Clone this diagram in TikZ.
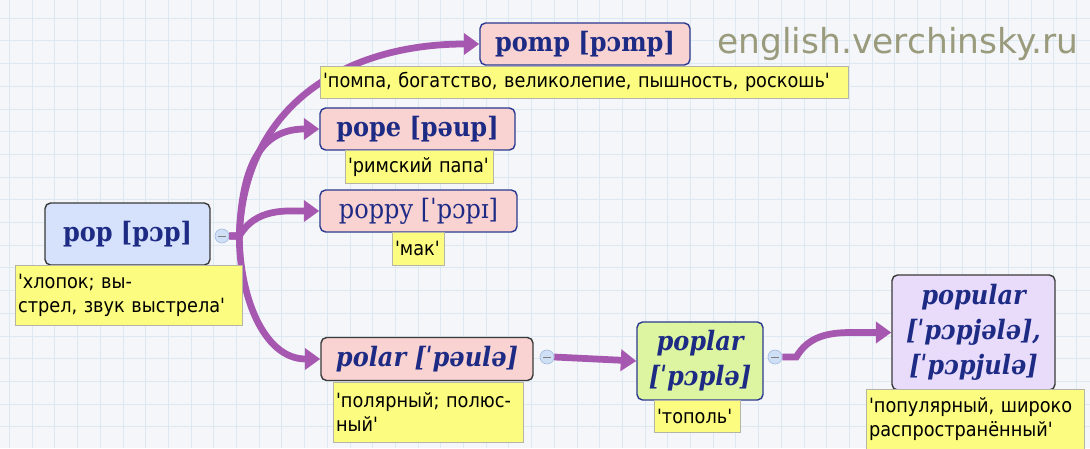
\documentclass[tikz,border=0pt]{standalone}
\usepackage{fontspec}
\usepackage{xcolor}
\usetikzlibrary{arrows.meta}
\newfontfamily\wordfont{DejaVu Serif Condensed}
\newfontfamily\notefont{DejaVu Sans Condensed}[Ligatures=TeXOff]
\newfontfamily\markfont{DejaVu Sans}
\definecolor{paper}{HTML}{F4F6F9}
\definecolor{gridblue}{HTML}{DDE9F0}
\definecolor{popblue}{HTML}{D6E2FB}
\definecolor{rosefill}{HTML}{F9D2D2}
\definecolor{greenfill}{HTML}{DDF5A0}
\definecolor{lilacfill}{HTML}{E9DCFB}
\definecolor{boxblue}{HTML}{2B3A90}
\definecolor{darkedge}{HTML}{3A3A3A}
\definecolor{inkblue}{HTML}{1D2B85}
\definecolor{noteyellow}{HTML}{FCFC80}
\definecolor{notegray}{HTML}{B5B5A5}
\definecolor{linkpurple}{HTML}{A657B0}
\definecolor{minusfill}{HTML}{CFE0F6}
\definecolor{minusedge}{HTML}{9FB8DC}
\definecolor{markolive}{HTML}{9A9A7C}

\begin{document}
\begin{tikzpicture}[
  x=0.025cm, y=-0.025cm,
  word/.style={draw=boxblue, rounded corners=4pt, line width=1pt, align=center, inner sep=0pt, text=inkblue, font=\wordfont\bfseries\fontsize{19}{25}\selectfont},
  note/.style={draw=notegray, fill=noteyellow, anchor=north west, inner xsep=2pt, inner ysep=3pt, align=left, font=\notefont\fontsize{14}{17}\selectfont},
  minus/.style={circle, draw=minusedge, fill=minusfill, minimum size=10pt, inner sep=0pt,
    path picture={\draw[gray, line width=0.6pt] ([xshift=-2.5pt]path picture bounding box.center) -- ([xshift=2.5pt]path picture bounding box.center);}},
  link/.style={line width=4.8pt, draw=linkpurple, -{Triangle[length=11pt,width=15pt]}},
  gridline/.style={draw=gridblue, line width=0.7pt}
]
\useasboundingbox (0,0) rectangle (1090,448);

% paper and grid
\fill[paper] (0,0) rectangle (1090,448);
\foreach \i in {0,...,47} \draw[gridline] (9.5+\i*22.7,0) -- (9.5+\i*22.7,448);
\foreach \j in {0,...,19} \draw[gridline] (0,18.2+\j*22.7) -- (1090,18.2+\j*22.7);

% watermark
\node[text=markolive, font=\markfont\fontsize{24.5}{29}\selectfont] (site) at (898,44) {english.verchinsky.ru};

% words
\node[word, fill=popblue, draw=darkedge, minimum width=4.125cm, minimum height=1.55cm] (pop) at (127.5,234) {pop [pɔp]};
\node[word, fill=rosefill, minimum width=5.25cm, minimum height=1.05cm] (pomp) at (585,44) {pomp [pɔmp]};
\node[word, fill=rosefill, minimum width=4.875cm, minimum height=1.05cm] (pope) at (417.5,129) {pope [pəup]};
\node[word, fill=rosefill, minimum width=4.925cm, minimum height=1.05cm, font=\wordfont\fontsize{19}{25}\selectfont] (poppy) at (418.5,211) {poppy [ˈpɔpɪ]};
\node[word, fill=rosefill, draw=darkedge, minimum width=5.3cm, minimum height=1.075cm, font=\wordfont\bfseries\itshape\fontsize{19}{25}\selectfont] (polar) at (427,359) {polar [ˈpəulə]};
\node[word, fill=greenfill, minimum width=3.15cm, minimum height=1.95cm, font=\wordfont\bfseries\itshape\fontsize{19}{25}\selectfont] (poplar) at (700,361) {poplar\\{}[ˈpɔplə]};
\node[word, fill=lilacfill, draw=darkedge, minimum width=4.075cm, minimum height=2.875cm, font=\wordfont\bfseries\itshape\fontsize{19}{25}\selectfont] (popular) at (973.5,332.5) {popular\\{}[ˈpɔpjələ],\\{}[ˈpɔpjulə]};

% fold buttons
\node[minus] (popm) at (222,236) {};
\node[minus] (polarm) at (547,357) {};
\node[minus] (poplarm) at (775,357) {};

% links
\draw[link] (popm.east) -- ++(10,0) to[out=88, in=180, looseness=1.1] (pomp.west);
\draw[link] (popm.east) -- ++(10,0) to[out=88, in=180, looseness=1.2] (pope.west);
\draw[link] (popm.east) -- ++(10,0) to[out=60, in=180] (poppy.west);
\draw[link] (popm.east) -- ++(10,0) to[out=-90, in=180] (polar.west);
\draw[link] (polarm.east) -- (poplar.west);
\draw[link] (poplarm.east) -- ++(14,0) to[out=60, in=180] ([xshift=-1cm]popular.west) -- (popular.west);

% translations
\node[note, text width=5.525cm, minimum height=1.5cm] (popnote) at (15,265) {\mbox{'хлопок; вы-}\\\mbox{стрел, звук выстрела'}};
\node[note, text width=13.05cm, minimum height=0.8cm] (pompnote) at (320,66) {\mbox{'помпа, богатство, великолепие, пышность, роскошь'}};
\node[note, text width=3.55cm, minimum height=0.82cm] (popenote) at (345,150) {\mbox{'римский папа'}};
\node[note, text width=1.15cm, minimum height=0.82cm] (poppynote) at (392,232) {\mbox{'мак'}};
\node[note, text width=4.6cm, minimum height=1.5cm] (polarnote) at (333,382) {\mbox{'полярный; полюс-}\\\mbox{ный'}};
\node[note, text width=2cm, minimum height=0.8cm] (poplarnote) at (654,400) {\mbox{'тополь'}};
\node[note, text width=5.3cm, minimum height=1.5cm] (popularnote) at (866,389) {\mbox{'популярный, широко}\\\mbox{распространённый'}};

\end{tikzpicture}
\end{document}
